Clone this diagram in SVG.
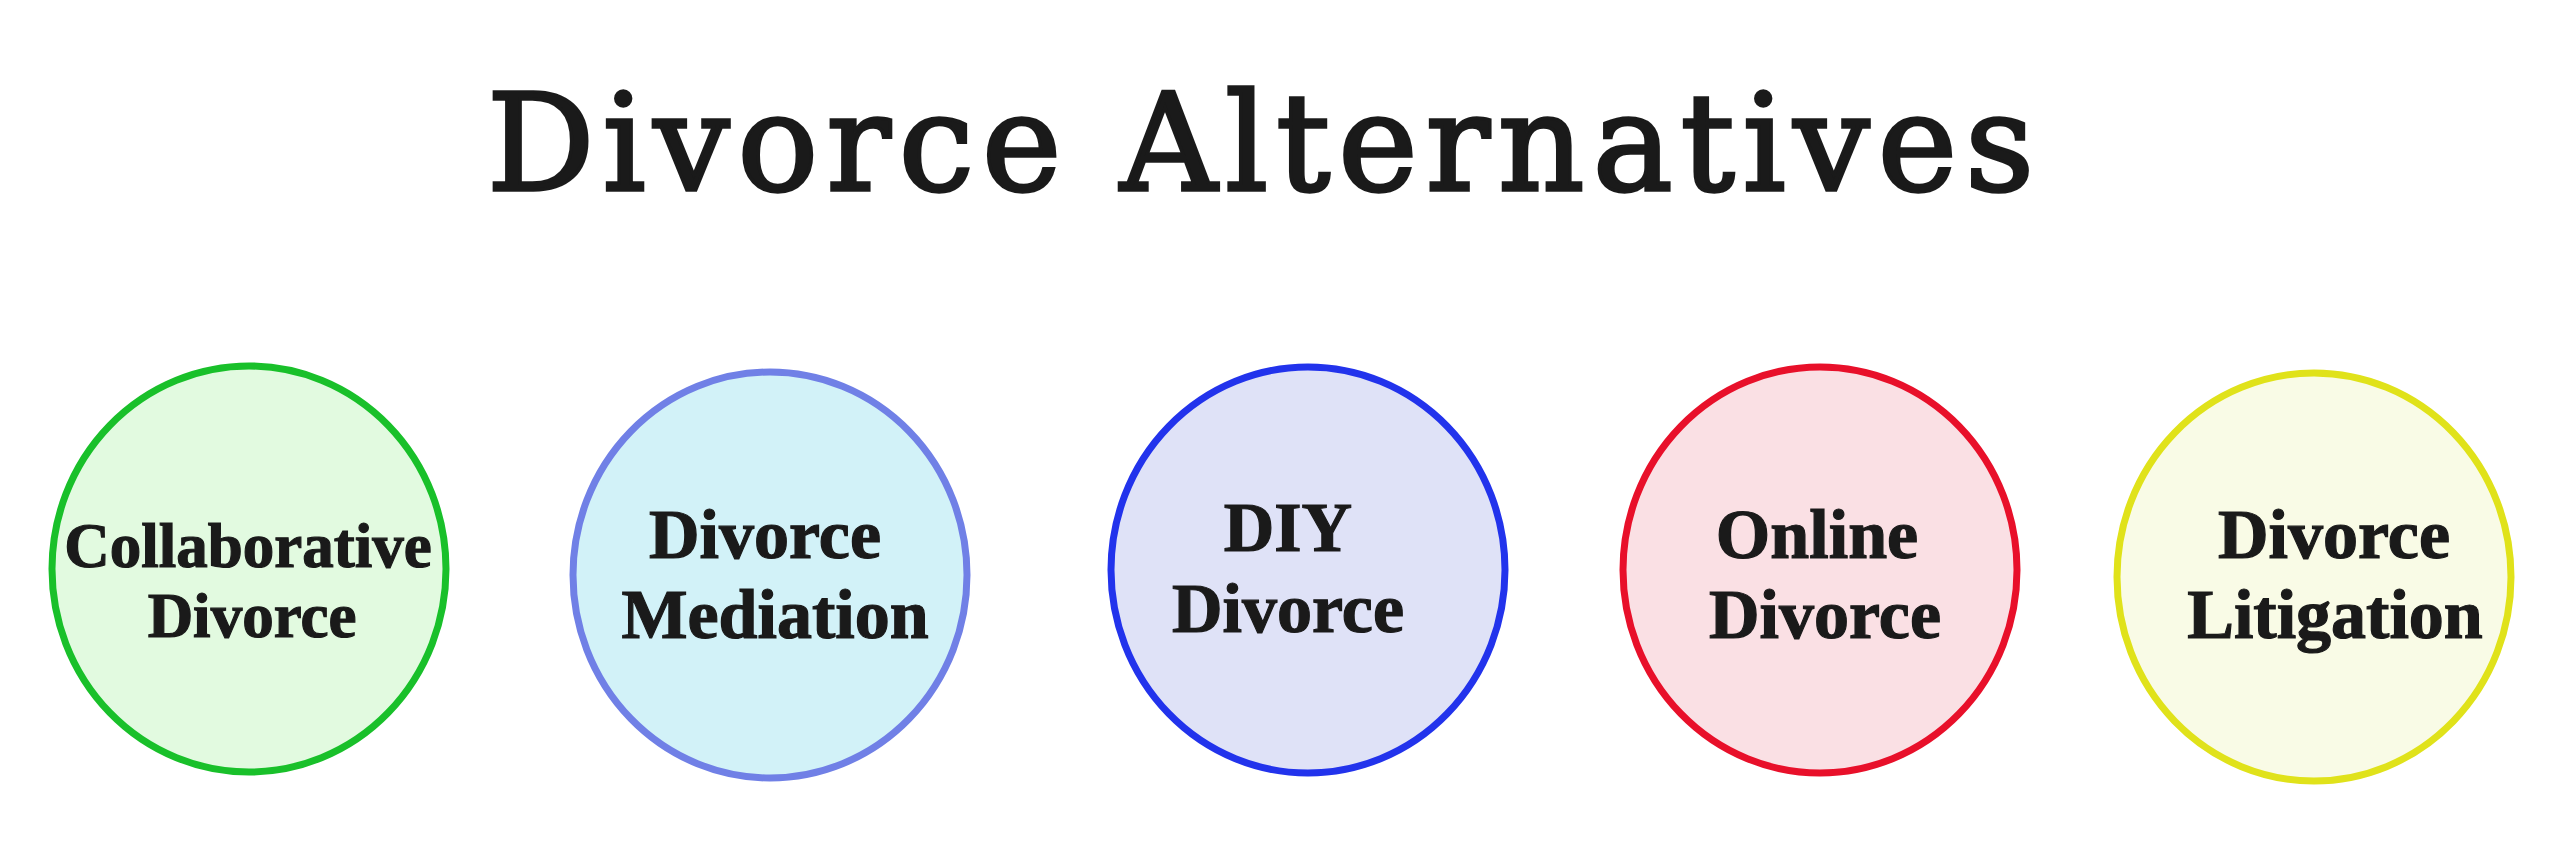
<svg xmlns="http://www.w3.org/2000/svg" width="2560" height="868" viewBox="0 0 2560 868">
<style>
.title{font-family:"DejaVu Serif","Liberation Serif",serif;font-size:134px;fill:#1a1a1a;stroke:#1a1a1a;stroke-width:3.5}
.lbl{font-family:"Liberation Serif","Times New Roman",serif;font-weight:bold;fill:#1a1a1a;stroke:#1a1a1a;stroke-width:1.2;text-anchor:middle}
.ring{stroke-width:7}
</style>
<rect width="2560" height="868" fill="#ffffff"/>
<text class="title" x="487" y="190" textLength="1547" lengthAdjust="spacing">Divorce Alternatives</text>
<g id="connectors"></g>
<g id="node-collaborative">
<ellipse class="ring" cx="249" cy="569" rx="197" ry="203" fill="#e2fae0" stroke="#19c02a"/>
<text class="lbl" font-size="63" x="248" y="567">Collaborative</text>
<text class="lbl" font-size="63" x="252" y="637">Divorce</text>
</g>
<g id="node-mediation">
<ellipse class="ring" cx="770" cy="575" rx="197" ry="203" fill="#d2f2f8" stroke="#7080e6"/>
<text class="lbl" font-size="70" x="765" y="558">Divorce</text>
<text class="lbl" font-size="70" x="775" y="638">Mediation</text>
</g>
<g id="node-diy">
<ellipse class="ring" cx="1308" cy="570" rx="197" ry="203" fill="#dfe2f7" stroke="#2233ec"/>
<text class="lbl" font-size="70" x="1288" y="551">DIY</text>
<text class="lbl" font-size="70" x="1288" y="632">Divorce</text>
</g>
<g id="node-online">
<ellipse class="ring" cx="1820" cy="570" rx="197" ry="203" fill="#fae0e4" stroke="#e8102a"/>
<text class="lbl" font-size="70" x="1817" y="558">Online</text>
<text class="lbl" font-size="70" x="1825" y="638">Divorce</text>
</g>
<g id="node-litigation">
<ellipse class="ring" cx="2314" cy="577" rx="197" ry="204" fill="#f9fbe6" stroke="#e0e21a"/>
<text class="lbl" font-size="70" x="2334" y="558">Divorce</text>
<text class="lbl" font-size="70" x="2335" y="638">Litigation</text>
</g>
</svg>
